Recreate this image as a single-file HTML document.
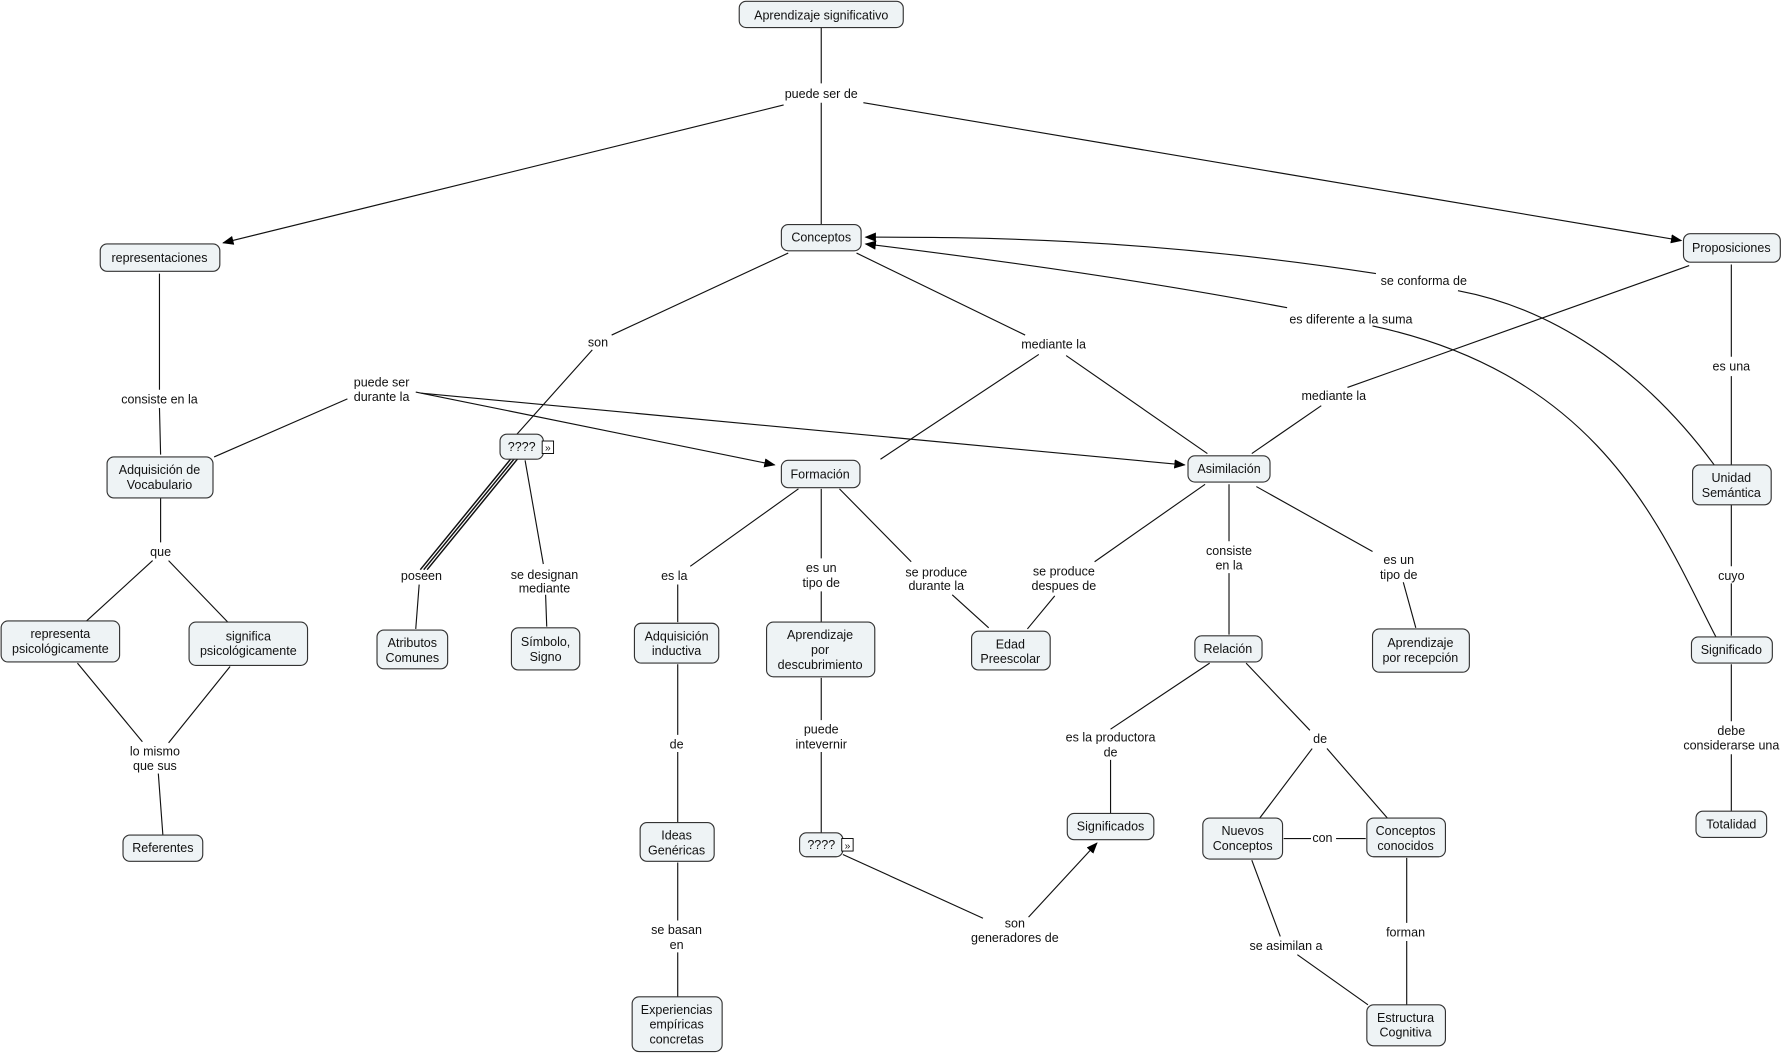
<!DOCTYPE html>
<html><head><meta charset="utf-8"><style>
html,body{margin:0;padding:0;background:#fff;width:1786px;height:1054px;overflow:hidden}
svg{display:block}
text{font-family:"Liberation Sans","DejaVu Sans",sans-serif;font-size:11px;fill:#111;text-anchor:middle}
.n{fill:#eef3f5;stroke:#333;stroke-width:1}
.l{stroke:#111;stroke-width:1;fill:none}
</style></head><body>
<svg width="1786" height="1054" viewBox="0 0 1568 925" xmlns="http://www.w3.org/2000/svg">
<defs><marker id="a" markerWidth="10" markerHeight="8" refX="9" refY="4" orient="auto" markerUnits="userSpaceOnUse"><path d="M0,0 L10,4 L0,8z" fill="#000"/></marker></defs>
<g class="l">
<path d="M721,24V73M721,90V197"/>
<path d="M688,92L196,213" marker-end="url(#a)"/>
<path d="M758,90L1476,211" marker-end="url(#a)"/>
<path d="M140,240L140,342M140,358L141,399"/>
<path d="M692,222L537,294M520,307L452,383"/>
<path d="M452,402L372,500M449,402L369,500M455,402L375,500" stroke-width="1.3"/>
<path d="M368,513L365,552M461,404L477,495M479,522L480,550"/>
<path d="M752,222L900,294M912,311L773,403M936,312L1060,398"/>
<path d="M305,350L188,401"/>
<path d="M365,344L680,408" marker-end="url(#a)"/>
<path d="M370,345L1040,408" marker-end="url(#a)"/>
<path d="M141,437V476M134,492L76,545M148,492L200,546M68,582L125,651M202,585L148,652M139,679L143,733"/>
<path d="M701,429L606,497M595,513V546M721,429V490M721,519V546M737,429L800,493M836,522L868,551"/>
<path d="M1058,425L961,493M926,523L902,552M1079,425V475M1079,503V557M1103,427L1205,484M1232,511L1243,551"/>
<path d="M1483,233L1183,340M1160,356L1099,398M1520,232V313M1520,330V408"/>
<path d="M1505,408C1440,320 1360,270 1280,255"/>
<path d="M1208,240C1000,208 850,208 760,208" marker-end="url(#a)"/>
<path d="M1507,560C1460,470 1410,330 1205,286"/>
<path d="M1130,270C1000,245 850,225 760,214" marker-end="url(#a)"/>
<path d="M1520,443V497M1520,512V558M1520,583V633M1520,662V712"/>
<path d="M595,583V645M595,660V722M595,757V808M595,836V875M721,595V632M721,660V732"/>
<path d="M740,750L863,806"/>
<path d="M903,805L963,740" marker-end="url(#a)"/>
<path d="M1062,582L975,640M975,667V714M1094,582L1150,641M1152,657L1106,718M1165,657L1218,718"/>
<path d="M1127,736H1151M1173,736H1199M1099,755L1124,822M1139,838L1201,882M1235,753V810M1235,826V882"/>
</g>
<g>
<rect class="n" x="649" y="1" width="144" height="23" rx="6"/><text x="721" y="17">Aprendizaje significativo</text>
<rect class="n" x="686" y="197" width="70" height="23" rx="6"/><text x="721" y="212">Conceptos</text>
<rect class="n" x="88" y="214" width="105" height="24" rx="6"/><text x="140" y="230">representaciones</text>
<rect class="n" x="1478" y="205" width="85" height="25" rx="6"/><text x="1520" y="221">Proposiciones</text>
<rect class="n" x="94" y="401" width="93" height="36" rx="6"/><text x="140" y="416">Adquisición de</text><text x="140" y="429">Vocabulario</text>
<rect class="n" x="439" y="381" width="38" height="22" rx="6"/><text x="458" y="396">????</text>
<rect x="476" y="387" width="10" height="11" fill="#fff" stroke="#000" stroke-width="0.8"/><text x="481" y="396" style="font-size:9px">»</text>
<rect class="n" x="686" y="404" width="69" height="24" rx="6"/><text x="720" y="420">Formación</text>
<rect class="n" x="1043" y="400" width="72" height="23" rx="6"/><text x="1079" y="415">Asimilación</text>
<rect class="n" x="1486" y="408" width="69" height="35" rx="6"/><text x="1520" y="423">Unidad</text><text x="1520" y="436">Semántica</text>
<rect class="n" x="1" y="545" width="104" height="36" rx="6"/><text x="53" y="560">representa</text><text x="53" y="573">psicológicamente</text>
<rect class="n" x="166" y="546" width="104" height="38" rx="6"/><text x="218" y="562">significa</text><text x="218" y="575">psicológicamente</text>
<rect class="n" x="331" y="553" width="62" height="34" rx="6"/><text x="362" y="568">Atributos</text><text x="362" y="581">Comunes</text>
<rect class="n" x="449" y="551" width="60" height="37" rx="6"/><text x="479" y="567">Símbolo,</text><text x="479" y="580">Signo</text>
<rect class="n" x="557" y="547" width="74" height="35" rx="6"/><text x="594" y="562">Adquisición</text><text x="594" y="575">inductiva</text>
<rect class="n" x="673" y="546" width="95" height="48" rx="6"/><text x="720" y="561">Aprendizaje</text><text x="720" y="574">por</text><text x="720" y="587">descubrimiento</text>
<rect class="n" x="853" y="554" width="69" height="34" rx="6"/><text x="887" y="569">Edad</text><text x="887" y="582">Preescolar</text>
<rect class="n" x="1049" y="558" width="59" height="23" rx="6"/><text x="1078" y="573">Relación</text>
<rect class="n" x="1205" y="552" width="85" height="38" rx="6"/><text x="1247" y="568">Aprendizaje</text><text x="1247" y="581">por recepción</text>
<rect class="n" x="1485" y="559" width="71" height="23" rx="6"/><text x="1520" y="574">Significado</text>
<rect class="n" x="108" y="733" width="70" height="23" rx="6"/><text x="143" y="748">Referentes</text>
<rect class="n" x="562" y="722" width="65" height="34" rx="6"/><text x="594" y="737">Ideas</text><text x="594" y="750">Genéricas</text>
<rect class="n" x="702" y="731" width="38" height="21" rx="6"/><text x="721" y="745">????</text>
<rect x="739" y="736" width="10" height="11" fill="#fff" stroke="#000" stroke-width="0.8"/><text x="744" y="745" style="font-size:9px">»</text>
<rect class="n" x="937" y="714" width="76" height="23" rx="6"/><text x="975" y="729">Significados</text>
<rect class="n" x="1056" y="718" width="70" height="36" rx="6"/><text x="1091" y="733">Nuevos</text><text x="1091" y="746">Conceptos</text>
<rect class="n" x="1200" y="718" width="69" height="34" rx="6"/><text x="1234" y="733">Conceptos</text><text x="1234" y="746">conocidos</text>
<rect class="n" x="1489" y="712" width="62" height="23" rx="6"/><text x="1520" y="727">Totalidad</text>
<rect class="n" x="555" y="875" width="79" height="48" rx="6"/><text x="594" y="890">Experiencias</text><text x="594" y="903">empíricas</text><text x="594" y="916">concretas</text>
<rect class="n" x="1200" y="882" width="69" height="36" rx="6"/><text x="1234" y="897">Estructura</text><text x="1234" y="910">Cognitiva</text>
</g>
<g>
<text x="721" y="86">puede ser de</text>
<text x="525" y="304">son</text>
<text x="925" y="306">mediante la</text>
<text x="1250" y="250">se conforma de</text>
<text x="1186" y="284">es diferente a la suma</text>
<text x="1520" y="325">es una</text>
<text x="1171" y="351">mediante la</text>
<text x="140" y="354">consiste en la</text>
<text x="335" y="339">puede ser</text><text x="335" y="352">durante la</text>
<text x="141" y="488">que</text>
<text x="370" y="509">poseen</text>
<text x="478" y="508">se designan</text><text x="478" y="520">mediante</text>
<text x="592" y="509">es la</text>
<text x="721" y="502">es un</text><text x="721" y="515">tipo de</text>
<text x="822" y="506">se produce</text><text x="822" y="518">durante la</text>
<text x="934" y="505">se produce</text><text x="934" y="518">despues de</text>
<text x="1079" y="487">consiste</text><text x="1079" y="500">en la</text>
<text x="1228" y="495">es un</text><text x="1228" y="508">tipo de</text>
<text x="1520" y="509">cuyo</text>
<text x="136" y="663">lo mismo</text><text x="136" y="676">que sus</text>
<text x="594" y="657">de</text>
<text x="721" y="644">puede</text><text x="721" y="657">intevernir</text>
<text x="975" y="651">es la productora</text><text x="975" y="664">de</text>
<text x="1159" y="652">de</text>
<text x="1520" y="645">debe</text><text x="1520" y="658">considerarse una</text>
<text x="1161" y="739">con</text>
<text x="891" y="814">son</text><text x="891" y="827">generadores de</text>
<text x="594" y="820">se basan</text><text x="594" y="833">en</text>
<text x="1129" y="834">se asimilan a</text>
<text x="1234" y="822">forman</text>
</g>
</svg>
</body></html>
